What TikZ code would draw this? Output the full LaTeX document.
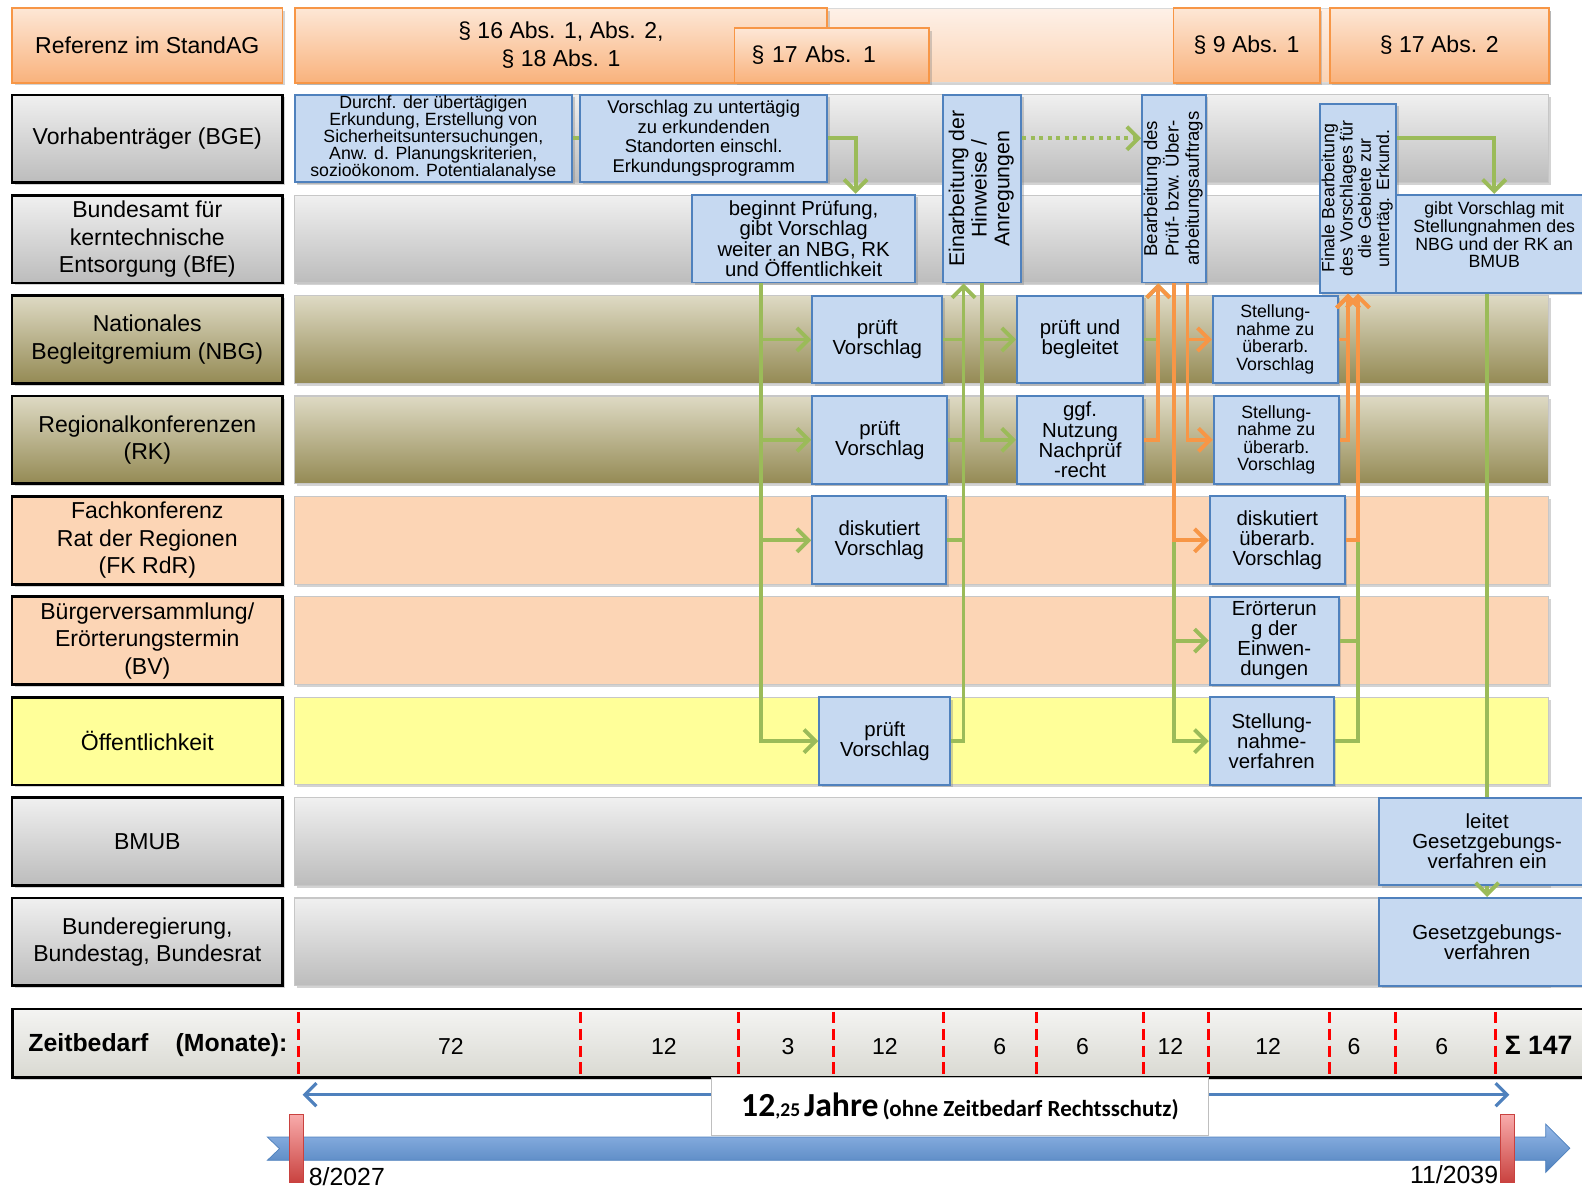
\documentclass[tikz,border=0pt]{standalone}
\usepackage{fontspec}
\setmainfont{Liberation Sans}
\newfontfamily\calfont{Carlito}
\usepackage{tikz}
\usetikzlibrary{arrows.meta,shadows,positioning}

\definecolor{actfill}{HTML}{C6D9F1}
\definecolor{actline}{HTML}{4F81BD}
\definecolor{arrgreen}{HTML}{9BBB59}
\definecolor{arrorange}{HTML}{F79646}
\definecolor{hdrtop}{HTML}{FDE7D6}
\definecolor{hdrbot}{HTML}{F9B27C}
\definecolor{hdrline}{HTML}{F79646}
\definecolor{hbandtop}{HTML}{FEF1E8}
\definecolor{hbandbot}{HTML}{FBD2B2}
\definecolor{grtop}{HTML}{F0F0F0}
\definecolor{grbot}{HTML}{BCBCBC}
\definecolor{oltop}{HTML}{DEDAC4}
\definecolor{olbot}{HTML}{948A54}
\definecolor{peach}{HTML}{FCD5B5}
\definecolor{lemon}{HTML}{FFFF99}
\definecolor{zeittop}{HTML}{F4F4F2}
\definecolor{zeitbot}{HTML}{D9D9D2}
\definecolor{tltop}{HTML}{95B8E8}
\definecolor{tlbot}{HTML}{4F81BD}
\definecolor{marktop}{HTML}{F8AAAA}
\definecolor{markbot}{HTML}{C9423F}

\begin{document}
\begin{tikzpicture}[x=0.02cm,y=-0.02cm,>={Straight Barb[length=6.5pt,width=13pt]},
                    line join=miter]
\tikzset{
  shad/.style={drop shadow={shadow xshift=1.4pt,shadow yshift=-1.4pt,opacity=.35}},
  hdr/.style={draw=hdrline,line width=1pt,top color=hdrtop,bottom color=hdrbot,
    minimum height=1.48cm,align=center,inner sep=1pt,font=\fontsize{13}{15.9}\selectfont,shad},
  lab/.style={draw=black,line width=1.5pt,align=center,minimum width=5.36cm,
    minimum height=1.74cm,inner sep=1pt,font=\fontsize{13}{15.5}\selectfont,shad},
  band/.style={draw=black!22,line width=.6pt,minimum width=24.86cm,minimum height=1.74cm,shad},
  grayfill/.style={top color=grtop,bottom color=grbot},
  olivefill/.style={top color=oltop,bottom color=olbot},
  peachfill/.style={fill=peach},
  lemonfill/.style={fill=lemon},
  act/.style={draw=actline,fill=actfill,line width=1.1pt,align=center,inner sep=0pt,
    minimum height=1.74cm,shad},
  fm/.style={font=\fontsize{11.5}{11.4}\selectfont},
  fs/.style={font=\fontsize{10}{9.9}\selectfont},
  gline/.style={draw=arrgreen,line width=2.2pt},
  garrow/.style={gline,->},
  oline/.style={draw=arrorange,line width=2.2pt},
  oarrow/.style={oline,->},
  reddash/.style={draw=red,line width=1.6pt,dash pattern=on 6.5pt off 3pt},
  zeitnum/.style={font=\fontsize{13}{13}\selectfont}
}
\useasboundingbox (0,0) rectangle (1568,1177);

% header
\node[hdr,minimum width=5.36cm] (ref) at (146,45) {Referenz im StandAG};
\node[draw=black!15,line width=.6pt,top color=hbandtop,bottom color=hbandbot,
      minimum width=24.86cm,minimum height=1.48cm,shad] (hband) at (913.5,45) {};
\node[hdr,minimum width=10.56cm] (p16) at (556,45) {§ 16 Abs. 1, Abs. 2,\\§ 18 Abs. 1};
\node[hdr,minimum width=3.86cm,minimum height=1.08cm,text width=3.18cm,align=left,
      inner xsep=0.34cm] (p17a) at (824.5,55) {§ 17 Abs. 1};
\node[hdr,minimum width=2.9cm] (p9) at (1235.5,45) {§ 9 Abs. 1};
\node[hdr,minimum width=4.34cm] (p17b) at (1426.5,45) {§ 17 Abs. 2};

% rows
\node[lab,grayfill]   (lbge)  at (146,137.5) {Vorhabenträger (BGE)};
\node[band,grayfill]  (bbge)  at (913.5,137.5) {};
\node[lab,grayfill]   (lbfe)  at (146,237) {Bundesamt für\\kerntechnische\\Entsorgung (BfE)};
\node[band,grayfill]  (bbfe)  at (913.5,237) {};
\node[lab,olivefill]  (lnbg)  at (146,336.5) {Nationales\\Begleitgremium (NBG)};
\node[band,olivefill] (bnbg)  at (913.5,336.5) {};
\node[lab,olivefill]  (lrk)   at (146,436) {Regionalkonferenzen\\(RK)};
\node[band,olivefill] (brk)   at (913.5,436) {};
\node[lab,peachfill]  (lfk)   at (146,535.5) {Fachkonferenz\\Rat der Regionen\\(FK RdR)};
\node[band,peachfill] (bfk)   at (913.5,535.5) {};
\node[lab,peachfill]  (lbv)   at (146,635) {Bürgerversammlung/\\Erörterungstermin\\(BV)};
\node[band,peachfill] (bbv)   at (913.5,635) {};
\node[lab,lemonfill]  (loe)   at (146,734.5) {Öffentlichkeit};
\node[band,lemonfill] (boe)   at (913.5,734.5) {};
\node[lab,grayfill]   (lbmub) at (146,834) {BMUB};
\node[band,grayfill]  (bbmub) at (913.5,834) {};
\node[lab,grayfill]   (lbreg) at (146,933.5) {Bunderegierung,\\Bundestag, Bundesrat};
\node[band,grayfill]  (bbreg) at (913.5,933.5) {};

% steps
\node[act,font=\fontsize{10}{9.6}\selectfont,minimum width=5.5cm,minimum height=1.72cm]
      (durchf) at (429.5,137) {Durchf. der übertägigen\\Erkundung, Erstellung von\\Sicherheitsuntersuchungen,\\Anw. d. Planungskriterien,\\sozioökonom. Potentialanalyse};
\node[act,font=\fontsize{10.4}{11.2}\selectfont,minimum width=4.9cm,minimum height=1.72cm]
      (vorschl) at (697.5,137) {Vorschlag zu untertägig\\zu erkundenden\\Standorten einschl.\\Erkundungsprogramm};
\node[act,font=\fontsize{12}{12.8}\selectfont,minimum width=1.54cm,minimum height=3.72cm]
      (einarb) at (973.5,187) {\rotatebox{90}{\begin{tabular}{@{}c@{}}Einarbeitung der\\Hinweise /\\Anregungen\end{tabular}}};
\node[act,font=\fontsize{10.5}{11.4}\selectfont,minimum width=1.26cm,minimum height=3.72cm]
      (bearb) at (1163.5,187) {\rotatebox{90}{\begin{tabular}{@{}c@{}}Bearbeitung des\\Prüf- bzw. Über-\\arbeitungsauftrags\end{tabular}}};
\node[act,font=\fontsize{10}{10.2}\selectfont,minimum width=1.52cm,minimum height=3.74cm]
      (finale) at (1346,196.5) {\rotatebox{90}{\begin{tabular}{@{}c@{}}Finale Bearbeitung\\des Vorschlages für\\die Gebiete zur\\untertäg. Erkund.\end{tabular}}};
\node[act,fm,minimum width=4.42cm] (beginnt) at (796.5,236.5) {beginnt Prüfung,\\gibt Vorschlag\\weiter an NBG, RK\\und Öffentlichkeit};
\node[act,font=\fontsize{10}{10}\selectfont,minimum width=3.88cm,minimum height=1.94cm,
      text depth=10pt] (gibt) at (1481,241.5) {gibt Vorschlag mit\\Stellungnahmen des\\NBG und der RK an\\BMUB};

\node[act,fm,minimum width=2.58cm] (nbgpr)  at (869.5,336.5) {prüft\\Vorschlag};
\node[act,fm,minimum width=2.5cm]  (nbgbeg) at (1070.5,336.5) {prüft und\\begleitet};
\node[act,fs,minimum width=2.48cm] (nbgst)  at (1264,336.5) {Stellung-\\nahme zu\\überarb.\\Vorschlag};
\node[act,fm,minimum width=2.68cm] (rkpr)   at (872,436) {prüft\\Vorschlag};
\node[act,fm,minimum width=2.5cm]  (rknach) at (1070.5,436) {ggf.\\Nutzung\\Nachprüf\\-recht};
\node[act,fs,minimum width=2.48cm] (rkst)   at (1265,436) {Stellung-\\nahme zu\\überarb.\\Vorschlag};
\node[act,fm,minimum width=2.66cm] (fkdis)  at (871.5,535.5) {diskutiert\\Vorschlag};
\node[act,fm,minimum width=2.68cm] (fkueb)  at (1266,535.5) {diskutiert\\überarb.\\Vorschlag};
\node[act,fm,minimum width=2.56cm] (bverl)  at (1263,635) {Erörterun\\g der\\Einwen-\\dungen};
\node[act,fm,minimum width=2.6cm]  (oepr)   at (877,734.5) {prüft\\Vorschlag};
\node[act,fm,minimum width=2.46cm] (oest)   at (1260.5,734.5) {Stellung-\\nahme-\\verfahren};
\node[act,fm,minimum width=4.28cm] (leitet) at (1474,834) {leitet\\Gesetzgebungs-\\verfahren ein};
\node[act,fm,minimum width=4.28cm] (gesetz) at (1474,933.5) {Gesetzgebungs-\\verfahren};

% connectors
\coordinate (verteil) at ([xshift=-0.85cm]beginnt.south);
\coordinate (rueck)   at ([xshift=-0.37cm]einarb.south);
\coordinate (pruef)   at ([xshift=-0.31cm]bearb.south);
\coordinate (ueber)   at ([xshift=0.27cm]bearb.south);
\coordinate (fin)     at ([xshift=-0.2cm]finale.south);

\draw[gline]  (durchf.east) -- (vorschl.west);
\draw[garrow] (vorschl.east) -| ([xshift=1.03cm]beginnt.north);
\draw[garrow] (verteil) |- (nbgpr.west);
\draw[garrow] (verteil) |- (rkpr.west);
\draw[garrow] (verteil) |- (fkdis.west);
\draw[garrow] (verteil) |- (oepr.west);
\draw[gline]  (nbgpr.east) -- (nbgpr.east -| rueck);
\draw[gline]  (rkpr.east) -- (rkpr.east -| rueck);
\draw[gline]  (fkdis.east) -- (fkdis.east -| rueck);
\draw[garrow] (oepr.east) -| (rueck);
\draw[garrow] (einarb.south) |- (nbgbeg.west);
\draw[garrow] (einarb.south) |- (rknach.west);
\draw[garrow,dash pattern=on 2.4pt off 2.4pt] ([yshift=1cm]einarb.east) -- ([yshift=1cm]bearb.west);
\draw[garrow] (nbgbeg.east) -| (pruef);
\draw[garrow] (bearb.south |- fkueb.west) |- (bverl.west);
\draw[garrow] (bearb.south |- fkueb.west) |- (oest.west);
\draw[gline]  (bverl.east) -- (bverl.east -| finale.south);
\draw[gline]  (oest.east) -| (finale.south |- fkueb.east);
\draw[oarrow] (rknach.east) -| (pruef);
\draw[oarrow] (ueber) |- (nbgst.west);
\draw[oarrow] (ueber) |- (rkst.west);
\draw[oarrow] (bearb.south) |- (fkueb.west);
\draw[oarrow] (nbgst.east) -| (fin);
\draw[oarrow] (rkst.east) -| (fin);
\draw[oarrow] (fkueb.east) -| (finale.south);
\draw[garrow] ([yshift=1.19cm]finale.east) -| (gibt.north);
\draw[gline]  (leitet.north |- gibt.south) -- (leitet.north);
\draw[garrow] (leitet.south) -- (gesetz.north);

% time bar
\node[draw=black,line width=1.4pt,top color=zeittop,bottom color=zeitbot,
      minimum width=31.36cm,minimum height=1.36cm,shad] (zeit) at (796,1034) {};
\node[anchor=west,font=\bfseries\fontsize{14}{14}\selectfont] (zlab) at (22,1036) {Zeitbedarf\hspace{1.1em}(Monate):};
\draw[reddash] (296,1003) -- (296,1066) (575,1003) -- (575,1066) (732,1003) -- (732,1066)
               (826,1003) -- (826,1066) (935,1003) -- (935,1066) (1027,1003) -- (1027,1066)
               (1133,1003) -- (1133,1066) (1198,1003) -- (1198,1066) (1318,1003) -- (1318,1066)
               (1383,1003) -- (1383,1066) (1482,1003) -- (1482,1066);
\node[zeitnum] (m1)  at (447,1037)  {72};
\node[zeitnum] (m2)  at (658,1037)  {12};
\node[zeitnum] (m3)  at (781,1037)  {3};
\node[zeitnum] (m4)  at (877,1037)  {12};
\node[zeitnum] (m5)  at (991,1037)  {6};
\node[zeitnum] (m6)  at (1073,1037) {6};
\node[zeitnum] (m7)  at (1160,1037) {12};
\node[zeitnum] (m8)  at (1257,1037) {12};
\node[zeitnum] (m9)  at (1342,1037) {6};
\node[zeitnum] (m10) at (1429,1037) {6};
\node[font=\bfseries\fontsize{15}{15}\selectfont] (summe) at (1525,1036) {Σ 147};

% timeline
\coordinate (jl) at (300,1085);
\coordinate (jr) at (1496,1085);
\node[draw=black!25,line width=.5pt,fill=white,minimum width=9.86cm,minimum height=1.14cm,
      inner sep=0pt,font=\calfont\bfseries] (jahre) at (951.5,1096.5)
      {{\fontsize{19}{19}\selectfont 12}{\fontsize{11}{11}\selectfont ,25}
       {\fontsize{19}{19}\selectfont Jahre} {\fontsize{13}{13}\selectfont(ohne Zeitbedarf Rechtsschutz)}};
\draw[draw=actline,line width=1.8pt,->] (jl -| jahre.west) -- (jl);
\draw[draw=actline,line width=1.8pt,->] (jr -| jahre.east) -- (jr);
\shade[top color=tltop,bottom color=tlbot,draw=tlbot,line width=.4pt]
      (265,1127) -- (1532,1127) -- (1532,1114) -- (1556,1138) -- (1532,1162)
      -- (1532,1150) -- (265,1150) -- (277,1138.5) -- cycle;
\shade[top color=marktop,bottom color=markbot,draw=markbot,line width=.5pt] (287,1105) rectangle (301,1172);
\shade[top color=marktop,bottom color=markbot,draw=markbot,line width=.5pt] (1487,1105) rectangle (1501,1172);
\node[anchor=west,font=\fontsize{14}{14}\selectfont] (start) at (300,1166) {8/2027};
\node[anchor=east,font=\fontsize{14}{14}\selectfont] (ende)  at (1491,1164) {11/2039};
\end{tikzpicture}
\end{document}
